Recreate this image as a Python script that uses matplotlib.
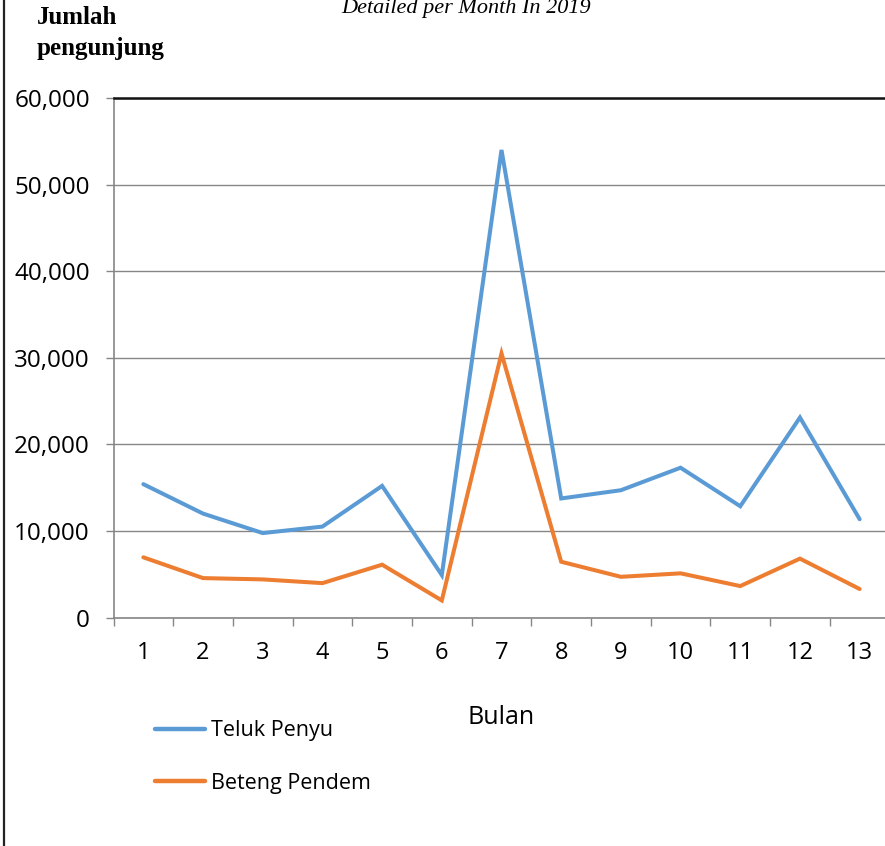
import matplotlib
matplotlib.use("Agg")
import matplotlib.pyplot as plt
from matplotlib.lines import Line2D
from matplotlib.ticker import FuncFormatter, MultipleLocator

months = list(range(1, 14))
teluk_penyu = [15400, 12000, 9750, 10500, 15200, 4900, 54000, 13750, 14700, 17300, 12850, 23100, 11350]
beteng_pendem = [6950, 4550, 4400, 3970, 6100, 1970, 30500, 6440, 4700, 5100, 3630, 6800, 3290]
series_names = ["Teluk Penyu", "Beteng Pendem"]
colors = ["#5B9BD5", "#ED7D31"]

plt.rcParams['font.family'] = ['Open Sans', 'DejaVu Sans']

fig = plt.figure(figsize=(8.85, 8.46), dpi=100)
ax = fig.add_axes([113.5/885, 1-617.5/846, 776/885, (617.5-98)/846])

for vals, name, c in zip([teluk_penyu, beteng_pendem], series_names, colors):
    ax.plot(months, vals, color=c, lw=2.9, label=name, solid_capstyle='round', solid_joinstyle='miter')

ax.set_xlim(0.5, 13.5)
ax.set_ylim(0, 60000)
ax.yaxis.set_major_locator(MultipleLocator(10000))
ax.yaxis.set_major_formatter(FuncFormatter(lambda v, p: f"{int(v):,}"))
ax.set_xticks(months)
ax.set_xticks([m + 0.5 for m in [0] + months], minor=True)
ax.tick_params(axis='x', which='major', length=0, pad=17, labelsize=17)
ax.tick_params(axis='x', which='minor', length=6, color='#868686', width=1, direction='out')
ax.tick_params(axis='y', which='major', length=6, color='#868686', width=1, direction='out', pad=11, labelsize=17.5)
ax.grid(axis='y', color='#868686', lw=1)
ax.set_axisbelow(True)
for s in ['left', 'bottom']:
    ax.spines[s].set_color('#868686')
    ax.spines[s].set_linewidth(1.2)
ax.spines['top'].set_color('#111111')
ax.spines['top'].set_linewidth(1.8)
ax.spines['right'].set_visible(False)

ax.set_xlabel("Bulan", fontsize=18, labelpad=29)

leg = ax.legend(loc='center left', bbox_to_anchor=(155/885, 1-757/846), bbox_transform=fig.transFigure,
                frameon=False, fontsize=15.5, handlelength=2.3, handletextpad=0.3, labelspacing=1.45,
                borderaxespad=0, borderpad=0)
for h in leg.get_lines():
    h.set_linewidth(3.2)

fig.text(37/885, 1-17/846, "Jumlah", family='Liberation Serif', fontweight='bold', fontsize=18,
         va='center', ha='left')
fig.text(37/885, 1-49/846, "pengunjung", family='Liberation Serif', fontweight='bold', fontsize=18,
         va='center', ha='left')
fig.text(466/885, 1-9/846, "Detailed per Month In 2019", family='Liberation Serif', style='italic',
         fontsize=16, va='center', ha='center')

fig.add_artist(Line2D([4/885, 4/885], [0, 1], transform=fig.transFigure, color='#222222', lw=1.6))

fig.savefig("out.png", dpi=100)
